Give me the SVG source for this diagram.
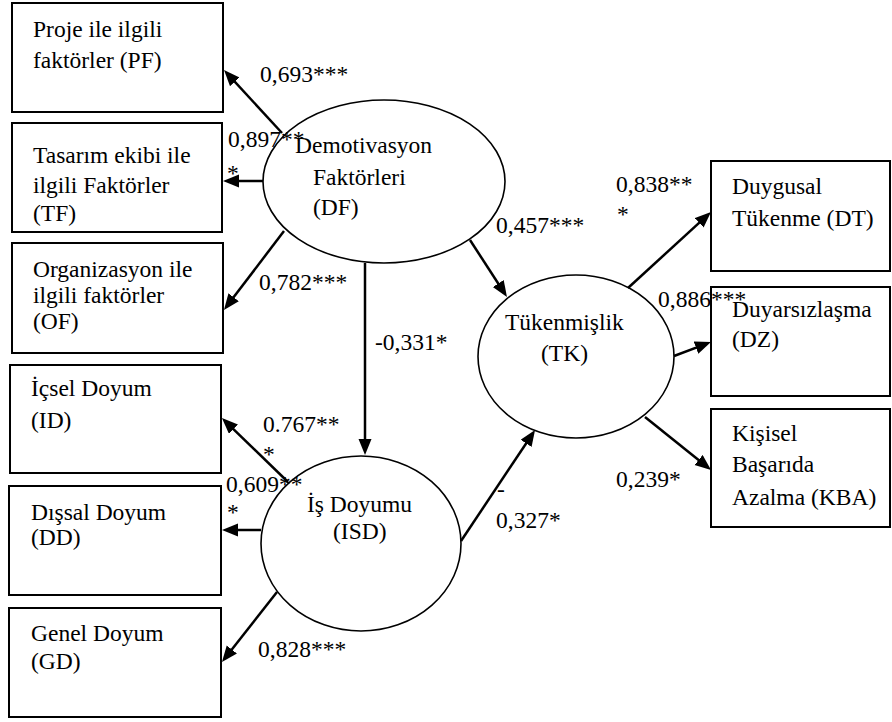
<svg xmlns="http://www.w3.org/2000/svg" width="892" height="722" viewBox="0 0 892 722">
<defs>
<marker id="ah" markerUnits="userSpaceOnUse" markerWidth="16" markerHeight="14" refX="8" refY="6.5" orient="auto">
<path d="M0,0 L16,6.5 L0,13 z" fill="#000"/>
</marker>
</defs>
<rect width="892" height="722" fill="#fff"/>
<g fill="none" stroke="#000" stroke-width="2">
<g id="PF"><rect x="12" y="3" width="211" height="109"/>
<text stroke="none" fill="#000" font-family="Liberation Serif" font-size="23.5" x="33" y="37">Proje ile ilgili</text><text stroke="none" fill="#000" font-family="Liberation Serif" font-size="23.5" x="33" y="68">faktörler (PF)</text></g>
<g id="TF"><rect x="12" y="123" width="210" height="109"/>
<text stroke="none" fill="#000" font-family="Liberation Serif" font-size="23.5" x="33" y="163">Tasarım ekibi ile</text><text stroke="none" fill="#000" font-family="Liberation Serif" font-size="23.5" x="33" y="193">ilgili Faktörler</text><text stroke="none" fill="#000" font-family="Liberation Serif" font-size="23.5" x="33" y="221">(TF)</text></g>
<g id="OF"><rect x="12" y="243" width="211" height="110"/>
<text stroke="none" fill="#000" font-family="Liberation Serif" font-size="23.5" x="33" y="277">Organizasyon ile</text><text stroke="none" fill="#000" font-family="Liberation Serif" font-size="23.5" x="33" y="303">ilgili faktörler</text><text stroke="none" fill="#000" font-family="Liberation Serif" font-size="23.5" x="33" y="329">(OF)</text></g>
<g id="ID"><rect x="10" y="365" width="211" height="108"/>
<text stroke="none" fill="#000" font-family="Liberation Serif" font-size="23.5" x="31" y="396">İçsel Doyum</text><text stroke="none" fill="#000" font-family="Liberation Serif" font-size="23.5" x="31" y="428">(ID)</text></g>
<g id="DD"><rect x="9" y="486" width="212" height="109"/>
<text stroke="none" fill="#000" font-family="Liberation Serif" font-size="23.5" x="31" y="520">Dışsal Doyum</text><text stroke="none" fill="#000" font-family="Liberation Serif" font-size="23.5" x="31" y="545">(DD)</text></g>
<g id="GD"><rect x="9" y="608" width="212" height="109"/>
<text stroke="none" fill="#000" font-family="Liberation Serif" font-size="23.5" x="31" y="641">Genel Doyum</text><text stroke="none" fill="#000" font-family="Liberation Serif" font-size="23.5" x="31" y="669">(GD)</text></g>

<g id="DT"><rect x="711" y="161" width="179" height="110"/>
<text stroke="none" fill="#000" font-family="Liberation Serif" font-size="23.5" x="732" y="194">Duygusal</text><text stroke="none" fill="#000" font-family="Liberation Serif" font-size="23.5" x="732" y="226">Tükenme (DT)</text></g>
<g id="DZ"><rect x="711" y="287" width="179" height="109"/>
<text stroke="none" fill="#000" font-family="Liberation Serif" font-size="23.5" x="732" y="317">Duyarsızlaşma</text><text stroke="none" fill="#000" font-family="Liberation Serif" font-size="23.5" x="732" y="347">(DZ)</text></g>
<g id="KBA"><rect x="711" y="409" width="179" height="118"/>
<text stroke="none" fill="#000" font-family="Liberation Serif" font-size="23.5" x="732" y="441">Kişisel</text><text stroke="none" fill="#000" font-family="Liberation Serif" font-size="23.5" x="732" y="472">Başarıda</text><text stroke="none" fill="#000" font-family="Liberation Serif" font-size="23.5" x="732" y="505">Azalma (KBA)</text></g>
</g>

<g fill="none" stroke="#000" stroke-width="1.6">
<g id="DF"><ellipse cx="384" cy="181.5" rx="121" ry="81.5"/>
<text stroke="none" fill="#000" font-family="Liberation Serif" font-size="23.5" x="295" y="153">Demotivasyon</text><text stroke="none" fill="#000" font-family="Liberation Serif" font-size="23.5" x="313" y="185">Faktörleri</text><text stroke="none" fill="#000" font-family="Liberation Serif" font-size="23.5" x="313" y="215">(DF)</text></g>
<g id="ISD"><ellipse cx="361" cy="543.5" rx="100" ry="87.5"/>
<text stroke="none" fill="#000" font-family="Liberation Serif" font-size="23.5" x="307" y="512">İş Doyumu</text><text stroke="none" fill="#000" font-family="Liberation Serif" font-size="23.5" x="333" y="539">(ISD)</text></g>
<g id="TK"><ellipse cx="576" cy="356.5" rx="98" ry="81.5"/>
<text stroke="none" fill="#000" font-family="Liberation Serif" font-size="23.5" x="505" y="330">Tükenmişlik</text><text stroke="none" fill="#000" font-family="Liberation Serif" font-size="23.5" x="541" y="361">(TK)</text></g>
</g>

<g id="connectors" fill="none" stroke="#000" stroke-width="2.5" marker-end="url(#ah)">
<line x1="282" y1="133" x2="229.4" y2="75.9"/>
<line x1="263" y1="181" x2="231" y2="181"/>
<line x1="284" y1="231" x2="228.8" y2="303.6"/>
<line x1="365" y1="263" x2="365" y2="447"/>
<line x1="470" y1="240" x2="502.6" y2="290.3"/>
<line x1="288" y1="482" x2="227.7" y2="423.6"/>
<line x1="261" y1="530" x2="230" y2="530"/>
<line x1="277" y1="592" x2="226.9" y2="655.7"/>
<line x1="461" y1="541" x2="530.6" y2="436.7"/>
<line x1="628" y1="288" x2="705.1" y2="217.4"/>
<line x1="674" y1="356" x2="703.5" y2="344.8"/>
<line x1="645" y1="417" x2="704.8" y2="465"/>
</g>

<g id="labels" fill="#000">
<text font-family="Liberation Serif" font-size="23.5" x="260" y="82">0,693***</text>
<text font-family="Liberation Serif" font-size="23.5" x="228" y="147">0,897**</text><text font-family="Liberation Serif" font-size="23.5" x="227" y="181">*</text>
<text font-family="Liberation Serif" font-size="23.5" x="259" y="290">0,782***</text>
<text font-family="Liberation Serif" font-size="23.5" x="375" y="350">-0,331*</text>
<text font-family="Liberation Serif" font-size="23.5" x="496" y="233">0,457***</text>
<text font-family="Liberation Serif" font-size="23.5" x="263" y="432">0.767**</text><text font-family="Liberation Serif" font-size="23.5" x="263" y="462">*</text>
<text font-family="Liberation Serif" font-size="23.5" x="226" y="492">0,609**</text><text font-family="Liberation Serif" font-size="23.5" x="227" y="520">*</text>
<text font-family="Liberation Serif" font-size="23.5" x="258" y="657">0,828***</text>
<text font-family="Liberation Serif" font-size="23.5" x="497" y="497">-</text><text font-family="Liberation Serif" font-size="23.5" x="496" y="528">0,327*</text>
<text font-family="Liberation Serif" font-size="23.5" x="616" y="192">0,838**</text><text font-family="Liberation Serif" font-size="23.5" x="617" y="222">*</text>
<text font-family="Liberation Serif" font-size="23.5" x="658" y="307">0,886***</text>
<text font-family="Liberation Serif" font-size="23.5" x="616" y="487">0,239*</text>
</g>
</svg>
